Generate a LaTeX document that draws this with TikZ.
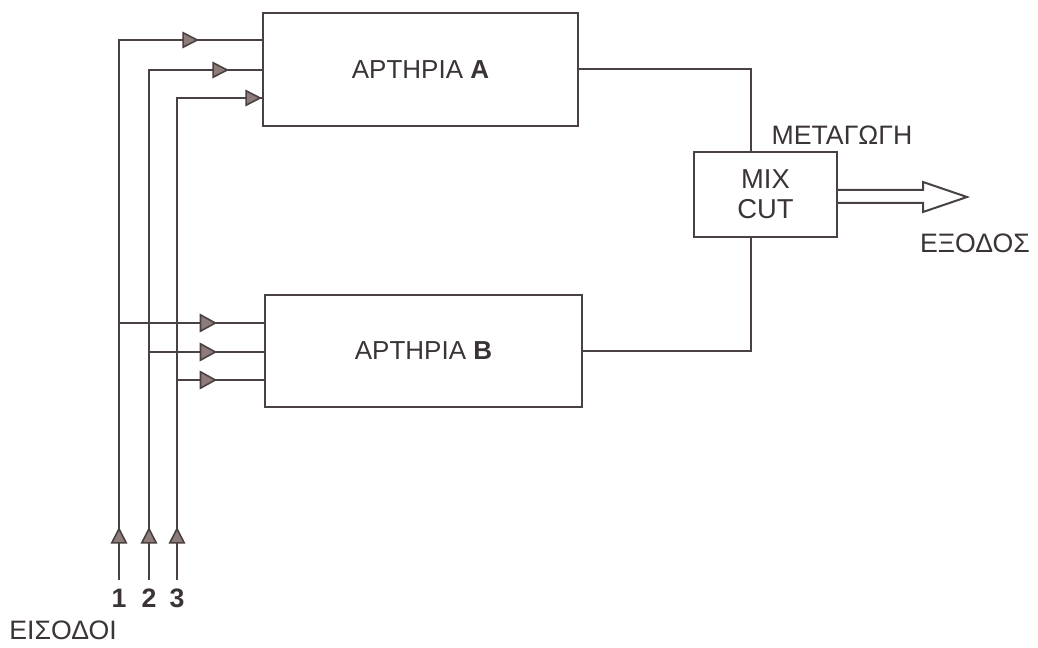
\documentclass[tikz,border=0pt]{standalone}
\usepackage{fontspec}
\setmainfont{Liberation Sans}
\usetikzlibrary{arrows.meta,calc}
\definecolor{ink}{HTML}{4A4242}
\definecolor{txt}{HTML}{3A3434}
\definecolor{arrfill}{HTML}{8E7C7B}
\begin{document}
\begin{tikzpicture}[x=0.75pt,y=-0.75pt,
  wire/.style={draw=ink, line width=1.6pt},
  blockbox/.style={draw=ink, line width=1.6pt, fill=white, inner sep=0pt, font=\fontsize{19.5}{22}\selectfont, text=txt},
  tri/.style={draw=ink, line width=1.2pt, -{Triangle[length=12.5pt,width=12.5pt,fill=arrfill]}},
  trib/.style={draw=ink, line width=1.2pt, -{Triangle[length=13pt,width=14pt,fill=arrfill]}},
  lbl/.style={text=txt, font=\fontsize{20}{23}\selectfont, inner sep=0pt}
]
\useasboundingbox (0,0) rectangle (1038,648);

% blocks
\node[blockbox, minimum width=236.25pt, minimum height=84.75pt] (boxA) at (420.5,69.5) {ΑΡΤΗΡΙΑ \textbf{Α}};
\node[blockbox, minimum width=237.75pt, minimum height=84pt] (boxB) at (423.5,351) {ΑΡΤΗΡΙΑ \textbf{Β}};
\node[blockbox, minimum width=107.25pt, minimum height=63.75pt, align=center, font=\fontsize{20.5}{22.5}\selectfont] (mix) at (765.5,194.5) {MIX\\CUT};

% helper coordinates
\coordinate (in1) at (119,580);
\coordinate (in2) at (149,580);
\coordinate (in3) at (177,580);
\coordinate (a1) at (0,40);
\coordinate (a2) at (0,70);
\coordinate (a3) at (0,98);
\coordinate (b1) at (0,323);
\coordinate (b2) at (0,352);
\coordinate (b3) at (0,380);
\coordinate (mixtop) at (751,152);
\coordinate (mixbot) at (751,237);

% inputs to block A
\draw[wire] (in1) |- (boxA.west |- a1);
\draw[wire] (in2) |- (boxA.west |- a2);
\draw[wire] (in3) |- (boxA.west |- a3);
% inputs to block B
\draw[wire] (in1 |- b1) -- (boxB.west |- b1);
\draw[wire] (in2 |- b2) -- (boxB.west |- b2);
\draw[wire] (in3 |- b3) -- (boxB.west |- b3);

% arrowheads
\draw[tri] (180,40) -- (199,40);
\draw[tri] (210,70) -- (229,70);
\draw[tri] (244,98) -- (boxA.west |- a3);
\draw[trib] (196,323) -- (217,323);
\draw[trib] (196,352) -- (217,352);
\draw[trib] (196,380) -- (217,380);
\draw[tri] (119,548) -- (119,527);
\draw[tri] (149,548) -- (149,527);
\draw[tri] (177,548) -- (177,527);

% blocks to switch
\draw[wire] (boxA.east |- 0,69) -| (mixtop);
\draw[wire] (boxB.east) -| (mixbot);

% output hollow double arrow
\coordinate (outtip) at (967,197);
\draw[wire, line width=1.5pt, line join=miter]
  ($(mix.east)+(0,-4.5)$) -- (923,190) -- (923,182) -- (outtip) -- (923,212) -- (923,203) -- ($(mix.east)+(0,8.5)$);

% labels
\node[lbl] (sw) at (842,135) {ΜΕΤΑΓΩΓΗ};
\node[lbl] (outl) at (975,243) {ΕΞΟΔΟΣ};
\node[lbl] (inl) at (63,630) {ΕΙΣΟΔΟΙ};
\node[lbl, font=\bfseries\fontsize{20}{23}\selectfont] (n1) at (119,598) {1};
\node[lbl, font=\bfseries\fontsize{20}{23}\selectfont] (n2) at (149,598) {2};
\node[lbl, font=\bfseries\fontsize{20}{23}\selectfont] (n3) at (177,598) {3};
\end{tikzpicture}
\end{document}
